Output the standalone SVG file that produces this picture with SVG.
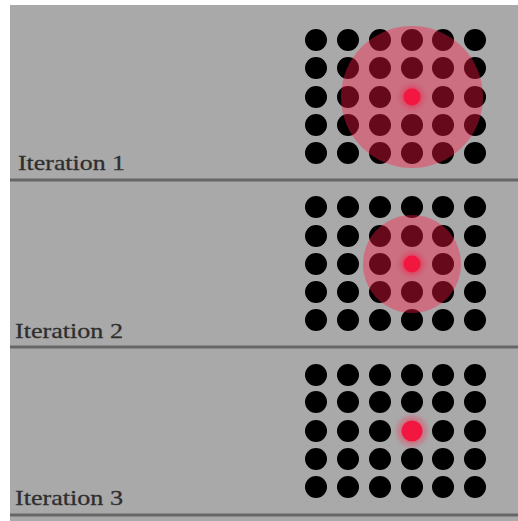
<svg xmlns="http://www.w3.org/2000/svg" width="518" height="521" viewBox="0 0 518 521">
<defs>
<style>
.bg{fill:#a9a9a9}
.sep{stroke:#666;stroke-width:3}
.lbl{font-family:"Liberation Serif","DejaVu Serif",serif;font-size:22px;fill:#2e2e2e;stroke:#2e2e2e;stroke-width:0.3}
.dot{fill:#050505}
.halo{fill:#ff1e46;fill-opacity:0.4}
.core{fill:#f2153f}
</style>
<filter id="soft" x="-20%" y="-20%" width="140%" height="140%"><feGaussianBlur stdDeviation="0.7"/></filter>
<filter id="glow" x="-50%" y="-50%" width="200%" height="200%"><feGaussianBlur stdDeviation="2.5"/></filter>
<g id="row">
<circle class="dot" cx="316" cy="0" r="11"/>
<circle class="dot" cx="348" cy="0" r="11"/>
<circle class="dot" cx="380" cy="0" r="11"/>
<circle class="dot" cx="412" cy="0" r="11"/>
<circle class="dot" cx="443" cy="0" r="11"/>
<circle class="dot" cx="475" cy="0" r="11"/>
</g>
<g id="rowgap">
<circle class="dot" cx="316" cy="0" r="11"/>
<circle class="dot" cx="348" cy="0" r="11"/>
<circle class="dot" cx="380" cy="0" r="11"/>
<circle class="dot" cx="443" cy="0" r="11"/>
<circle class="dot" cx="475" cy="0" r="11"/>
</g>
</defs>
<rect x="0" y="0" width="518" height="521" fill="#fff"/>
<rect class="bg" x="10" y="5" width="508" height="516"/>
<g id="connectors">
<line class="sep" x1="10" y1="180" x2="518" y2="180"/>
<line class="sep" x1="10" y1="347" x2="518" y2="347"/>
<line class="sep" x1="10" y1="515" x2="518" y2="515"/>
</g>
<g id="iteration1">
<g filter="url(#soft)">
<use href="#row" y="40"/><use href="#row" y="68"/><use href="#rowgap" y="97"/><use href="#row" y="125"/><use href="#row" y="153"/>
</g>
<circle class="halo" cx="412" cy="97" r="71" filter="url(#soft)"/>
<circle class="core" cx="412" cy="97" r="11" filter="url(#glow)" opacity="0.5"/>
<circle class="core" cx="412" cy="97" r="8.5" filter="url(#soft)"/>
<text class="lbl" x="18" y="170" textLength="107" lengthAdjust="spacingAndGlyphs">Iteration 1</text>
</g>
<g id="iteration2">
<g filter="url(#soft)">
<use href="#row" y="207"/><use href="#row" y="236"/><use href="#rowgap" y="264"/><use href="#row" y="292"/><use href="#row" y="320"/>
</g>
<circle class="halo" cx="412" cy="264" r="49" filter="url(#soft)"/>
<circle class="core" cx="412" cy="264" r="11" filter="url(#glow)" opacity="0.5"/>
<circle class="core" cx="412" cy="264" r="8.5" filter="url(#soft)"/>
<text class="lbl" x="15" y="338" textLength="108" lengthAdjust="spacingAndGlyphs">Iteration 2</text>
</g>
<g id="iteration3">
<g filter="url(#soft)">
<use href="#row" y="375"/><use href="#row" y="402"/><use href="#rowgap" y="431"/><use href="#row" y="459"/><use href="#row" y="487"/>
</g>
<circle class="halo" cx="412" cy="431" r="14.5" filter="url(#glow)"/>
<circle class="core" cx="412" cy="431" r="10.5" filter="url(#soft)"/>
<text class="lbl" x="15" y="505" textLength="108" lengthAdjust="spacingAndGlyphs">Iteration 3</text>
</g>
</svg>
